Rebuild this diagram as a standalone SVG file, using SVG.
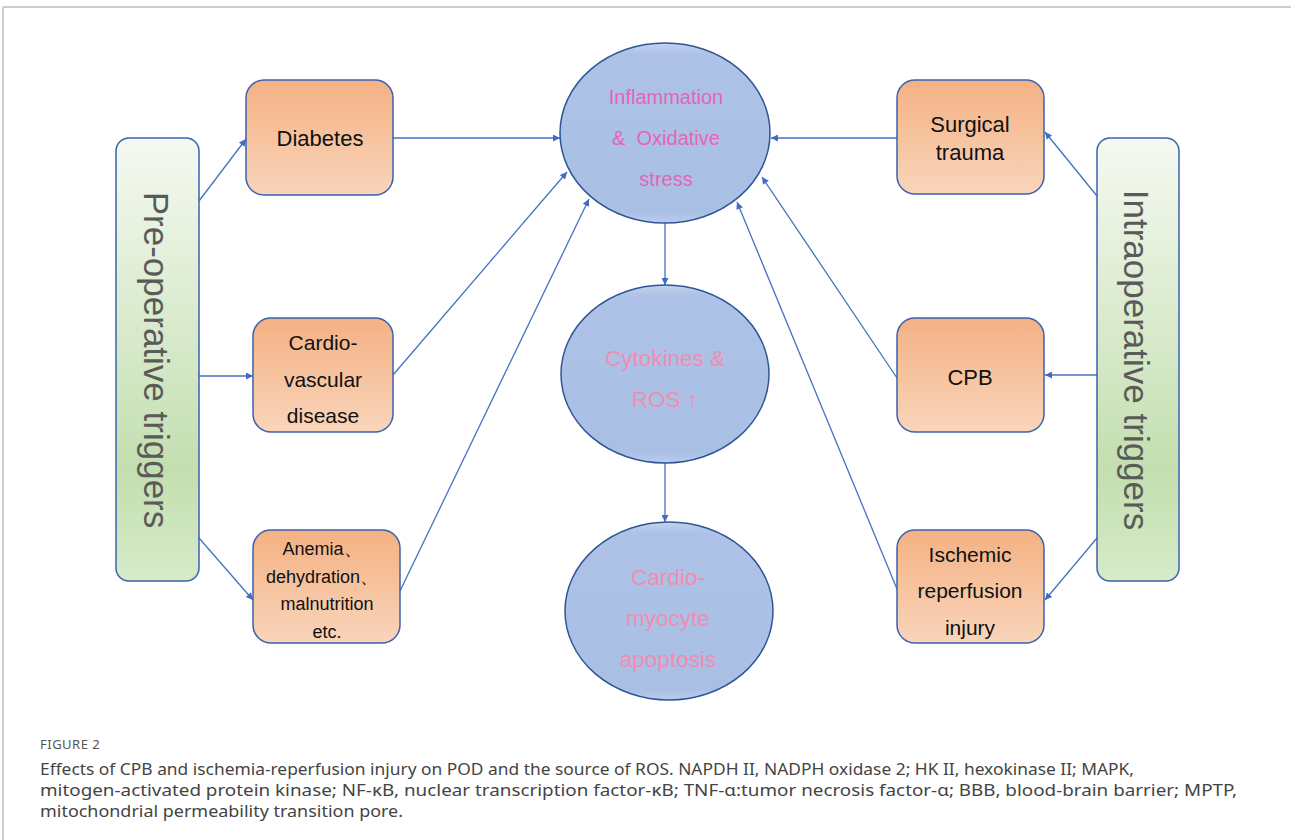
<svg xmlns="http://www.w3.org/2000/svg" width="1291" height="840" viewBox="0 0 1291 840">
<defs>
<linearGradient id="gOrange" x1="0" y1="0" x2="0" y2="1">
<stop offset="0" stop-color="#f4b183"/>
<stop offset="1" stop-color="#f9d5bb"/>
</linearGradient>
<linearGradient id="gGreen" x1="0" y1="0" x2="0" y2="1">
<stop offset="0" stop-color="#f5f9f1"/>
<stop offset="0.75" stop-color="#c3dfb0"/>
<stop offset="1" stop-color="#d6ebc8"/>
</linearGradient>
<linearGradient id="gBlue" x1="0" y1="0" x2="0" y2="1">
<stop offset="0" stop-color="#c4d3ee"/>
<stop offset="0.06" stop-color="#adc2e6"/>
<stop offset="0.94" stop-color="#a9bfe4"/>
<stop offset="1" stop-color="#bccdec"/>
</linearGradient>
<marker id="arr" viewBox="0 0 10 10" refX="10" refY="5" markerWidth="9" markerHeight="7" markerUnits="userSpaceOnUse" orient="auto">
<path d="M0,0 L10,5 L0,10 z" fill="#3f6cc4"/>
</marker>
<style>
.box{fill:url(#gOrange);stroke:#3b62ae;stroke-width:1.5}
.bar{fill:url(#gGreen);stroke:#3b62ae;stroke-width:1.5}
.ell{fill:url(#gBlue);stroke:#2f5597;stroke-width:1.5}
.bt{font-family:"Liberation Sans",Arial,sans-serif;fill:#111;text-anchor:middle}
.vt{font-family:"Liberation Sans",Arial,sans-serif;fill:#5a5a5a;font-size:35px;text-anchor:middle;dominant-baseline:central}
.et1{font-family:"Liberation Sans",Arial,sans-serif;fill:#e664b6;font-size:20px;text-anchor:middle}
.et2{font-family:"Liberation Sans",Arial,sans-serif;fill:#f28db2;font-size:22.5px;text-anchor:middle}
.cn{fill:none;stroke:#4472c4;stroke-width:1.3;marker-end:url(#arr)}
.cap{font-family:"Noto Sans","Open Sans",sans-serif;fill:#444;font-size:17px}
</style>
</defs>
<rect width="1291" height="840" fill="#fff"/>
<g id="frame" stroke="#bdbdbd" stroke-width="1.5" fill="none">
<line x1="3" y1="7" x2="1291" y2="7"/>
<line x1="3" y1="7" x2="3" y2="840"/>
</g>
<g id="connectors">
<line class="cn" x1="199" y1="201" x2="246" y2="139"/>
<line class="cn" x1="199" y1="376" x2="253" y2="376"/>
<line class="cn" x1="199" y1="538" x2="253" y2="600"/>
<line class="cn" x1="393" y1="138" x2="560" y2="138"/>
<line class="cn" x1="393" y1="375" x2="567" y2="172"/>
<line class="cn" x1="400" y1="591" x2="589" y2="199"/>
<line class="cn" x1="897" y1="138" x2="771" y2="138"/>
<line class="cn" x1="897" y1="378" x2="762" y2="177"/>
<line class="cn" x1="897" y1="589" x2="737" y2="202"/>
<line class="cn" x1="1097" y1="196" x2="1045" y2="132"/>
<line class="cn" x1="1097" y1="375" x2="1045" y2="375"/>
<line class="cn" x1="1097" y1="538" x2="1045" y2="600"/>
<line class="cn" x1="665" y1="223" x2="665" y2="285"/>
<line class="cn" x1="665" y1="463" x2="665" y2="522"/>
</g>
<g id="pre-operative">
<rect class="bar" x="116" y="138" width="83" height="443" rx="13"/>
<text class="vt" transform="translate(156,360) rotate(90)">Pre-operative triggers</text>
</g>
<g id="intraoperative">
<rect class="bar" x="1097" y="138" width="82" height="443" rx="13"/>
<text class="vt" transform="translate(1136,360) rotate(90)">Intraoperative triggers</text>
</g>
<g id="diabetes">
<rect class="box" x="246" y="80" width="147" height="115" rx="18"/>
<text class="bt" x="320" y="146" font-size="22">Diabetes</text>
</g>
<g id="cardiovascular">
<rect class="box" x="253" y="318" width="140" height="114" rx="18"/>
<text class="bt" font-size="21"><tspan x="323" y="350">Cardio-</tspan><tspan x="323" y="387">vascular</tspan><tspan x="323" y="423">disease</tspan></text>
</g>
<g id="anemia">
<rect class="box" x="253" y="530" width="147" height="113" rx="18"/>
<text class="bt" font-size="18"><tspan x="322" y="555">Anemia、</tspan><tspan x="322" y="583">dehydration、</tspan><tspan x="327" y="610">malnutrition</tspan><tspan x="327" y="638">etc.</tspan></text>
</g>
<g id="surgical">
<rect class="box" x="897" y="80" width="147" height="114" rx="18"/>
<text class="bt" font-size="22"><tspan x="970" y="132">Surgical</tspan><tspan x="970" y="160">trauma</tspan></text>
</g>
<g id="cpb">
<rect class="box" x="897" y="318" width="147" height="114" rx="18"/>
<text class="bt" x="970" y="385" font-size="22">CPB</text>
</g>
<g id="ischemic">
<rect class="box" x="897" y="530" width="147" height="113" rx="18"/>
<text class="bt" font-size="21"><tspan x="970" y="562">Ischemic</tspan><tspan x="970" y="598">reperfusion</tspan><tspan x="970" y="635">injury</tspan></text>
</g>
<g id="inflammation">
<ellipse class="ell" cx="665" cy="133" rx="105" ry="90"/>
<text class="et1"><tspan x="666" y="104">Inflammation</tspan><tspan x="666" y="145" xml:space="preserve">&amp;  Oxidative</tspan><tspan x="666" y="186">stress</tspan></text>
</g>
<g id="cytokines">
<ellipse class="ell" cx="665" cy="374" rx="104" ry="89"/>
<text class="et2"><tspan x="665" y="366">Cytokines &amp;</tspan><tspan x="665" y="407">ROS ↑</tspan></text>
</g>
<g id="apoptosis">
<ellipse class="ell" cx="669" cy="611" rx="104" ry="89"/>
<text class="et2"><tspan x="668" y="585">Cardio-</tspan><tspan x="668" y="626">myocyte</tspan><tspan x="668" y="667">apoptosis</tspan></text>
</g>
<g id="caption">
<text x="40" y="749" font-family="'Noto Sans','Open Sans',sans-serif" font-size="13" fill="#555" letter-spacing="0.5">FIGURE 2</text>
<text class="cap" x="40" y="775" textLength="1094" lengthAdjust="spacingAndGlyphs">Effects of CPB and ischemia-reperfusion injury on POD and the source of ROS. NAPDH II, NADPH oxidase 2; HK II, hexokinase II; MAPK,</text>
<text class="cap" x="40" y="796" textLength="1197" lengthAdjust="spacingAndGlyphs">mitogen-activated protein kinase; NF-κB, nuclear transcription factor-κB; TNF-α:tumor necrosis factor-α; BBB, blood-brain barrier; MPTP,</text>
<text class="cap" x="40" y="817" textLength="363" lengthAdjust="spacingAndGlyphs">mitochondrial permeability transition pore.</text>
</g>
</svg>
